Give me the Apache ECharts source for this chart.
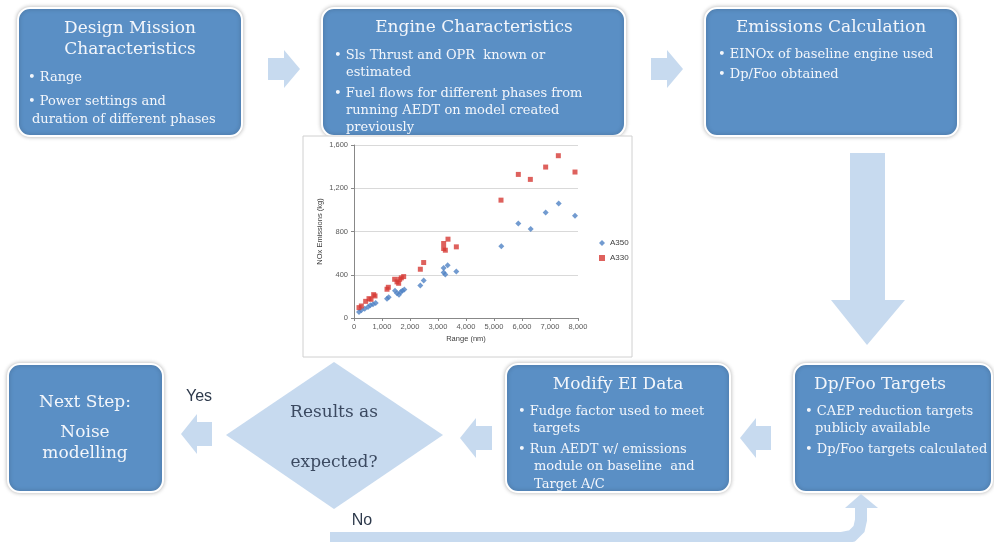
<!DOCTYPE html>
<html>
<head>
<meta charset="utf-8">
<script src="https://cdn.jsdelivr.net/npm/echarts@6/dist/echarts.min.js"></script>
<style>
html,body{margin:0;padding:0;background:#fff;}
#main{width:994px;height:542px;}
</style>
</head>
<body>
<div id="main"></div>
<script>
// ---- scatter data (Range nm, NOx kg) ----
var a350Range = [179,262,381,500,583,679,774,1179,1238,1464,1536,1607,1667,1726,1798,2369,2488,3202,3202,3262,3345,3655,5262,5869,6310,6845,7310,7893];
var a350Nox   = [56,71,86,102,117,127,139,179,192,253,229,216,241,253,263,300,346,463,420,402,488,429,664,874,822,976,1060,945];
var a330Range = [179,262,417,536,607,702,750,1179,1226,1452,1536,1595,1631,1690,1774,2369,2488,3202,3202,3262,3357,3655,5250,5869,6298,6845,7298,7893];
var a330Nox   = [96,111,154,179,173,216,204,266,284,358,334,321,358,371,383,451,513,689,643,627,729,658,1090,1328,1282,1396,1501,1350];
var seriesNames = ['A350','A330'];
var yTicks = [0,400,800,1200,1600];
var xTicks = [0,1000,2000,3000,4000,5000,6000,7000,8000];

function pairs(xs, ys){ return xs.map(function(x,i){ return [x, ys[i]]; }); }
function fmt(v){ return String(v).replace(/\B(?=(\d{3})+(?!\d))/g, ','); }

var BOX = '#5a8fc5', ARW = '#c7daef', TXT = '#f3f6fb';
var SERIF = '"DejaVu Serif", "Liberation Serif", serif';
var SANS = '"Liberation Sans", Arial, sans-serif';
var TS = 17, BS = 13;

function box(x, y, w, h){
  return {type:'rect', z:1, shape:{x:x, y:y, width:w, height:h, r:12},
    style:{fill:BOX, stroke:'#ffffff', lineWidth:2, shadowBlur:4, shadowColor:'rgba(0,0,0,0.25)'}};
}
function txt(s, x, y, size, align, color, family){
  return {type:'text', z:3, style:{text:s, x:x, y:y, fontSize:size, fontFamily:family||SERIF,
    fill:color||TXT, textAlign:align||'left', textVerticalAlign:'middle'}};
}
function poly(pts, z){
  return {type:'polygon', z:z||1, shape:{points:pts}, style:{fill:ARW}};
}
function rightArrow(x0, x1, cy){
  var hx = x1 - 16;
  return poly([[x0,cy-11],[hx,cy-11],[hx,cy-19],[x1,cy],[hx,cy+19],[hx,cy+11],[x0,cy+11]]);
}
function leftArrow(x0, x1, cy){ // x0 = tip
  var hx = x0 + 16;
  return poly([[x1,cy-12],[hx,cy-12],[hx,cy-20],[x0,cy],[hx,cy+20],[hx,cy+12],[x1,cy+12]]);
}

var graphics = [
  // boxes
  box(18, 8, 224, 128),
  box(322, 8, 303, 128),
  box(705, 8, 253, 128),
  box(8, 364, 155, 128),
  box(506, 364, 224, 128),
  box(794, 364, 198, 128),
  // arrows
  rightArrow(268, 300, 69),
  rightArrow(651, 683, 69),
  poly([[850,153],[885,153],[885,300],[905,300],[867,345],[831,300],[850,300]]),
  leftArrow(740, 771, 438),
  leftArrow(460, 492, 438),
  leftArrow(181, 212, 434),
  {type:'polyline', z:1, shape:{points:[[330,538],[842,538],[852,536],[859,529],[861,520],[861,506]]},
   style:{stroke:ARW, lineWidth:12, fill:null}},
  poly([[845,508],[878,508],[861,494]]),
  // diamond
  poly([[226,435],[334,362],[443,435],[334,509]]),
  txt('Results as', 334, 413, TS, 'center', '#3b4960'),
  txt('expected?', 334, 463, TS, 'center', '#3b4960'),
  txt('Yes', 199, 397, 16, 'center', '#2e3a4c', SANS),
  txt('No', 362, 521, 16, 'center', '#2e3a4c', SANS),
  // box 1
  txt('Design Mission', 130, 29, TS, 'center'),
  txt('Characteristics', 130, 50, TS, 'center'),
  txt('\u2022 Range', 28, 78, BS),
  txt('\u2022 Power settings and', 28, 102, BS),
  txt('duration of different phases', 32, 120, BS),
  // box 2
  txt('Engine Characteristics', 474, 28, TS, 'center'),
  txt('\u2022 Sls Thrust and OPR  known or', 334, 56, BS),
  txt('estimated', 346, 73, BS),
  txt('\u2022 Fuel flows for different phases from', 334, 94, BS),
  txt('running AEDT on model created', 346, 111, BS),
  txt('previously', 346, 128, BS),
  // box 3
  txt('Emissions Calculation', 831, 28, TS, 'center'),
  txt('\u2022 EINOx of baseline engine used', 718, 55, BS),
  txt('\u2022 Dp/Foo obtained', 718, 75, BS),
  // next step
  txt('Next Step:', 85, 403, TS, 'center'),
  txt('Noise', 85, 433, TS, 'center'),
  txt('modelling', 85, 454, TS, 'center'),
  // modify EI
  txt('Modify EI Data', 618, 385, TS, 'center'),
  txt('\u2022 Fudge factor used to meet', 518, 412, BS),
  txt('targets', 533, 429, BS),
  txt('\u2022 Run AEDT w/ emissions', 518, 450, BS),
  txt('module on baseline  and', 534, 467, BS),
  txt('Target A/C', 534, 485, BS),
  // dp/foo targets
  txt('Dp/Foo Targets', 880, 385, TS, 'center'),
  txt('\u2022 CAEP reduction targets', 805, 412, BS),
  txt('publicly available', 815, 429, BS),
  txt('\u2022 Dp/Foo targets calculated', 805, 450, BS),
  // chart inset background
  {type:'rect', z:5, shape:{x:303, y:136, width:329, height:221},
   style:{fill:'#ffffff', stroke:'#d0d0d0', lineWidth:1}}
];

var chart = echarts.init(document.getElementById('main'), null, {renderer:'canvas'});
chart.setOption({
  backgroundColor:'#ffffff',
  animation:false,
  graphic: graphics,
  grid:{left:354, top:145, width:224, height:173, containLabel:false, z:10},
  legend:{
    z:12, orient:'vertical', left:594, top:234, itemWidth:6, itemHeight:6, itemGap:7,
    textStyle:{fontSize:8, color:'#404040', fontFamily:SANS},
    data:[{name:'A350', icon:'diamond'},{name:'A330', icon:'rect'}]
  },
  xAxis:{
    type:'value', min:0, max:8000, interval:1000, z:10,
    name:'Range (nm)', nameLocation:'middle', nameGap:17,
    nameTextStyle:{fontSize:7.5, color:'#404040', fontFamily:SANS},
    axisLine:{show:true, lineStyle:{color:'#888888'}},
    axisTick:{show:true, length:3, lineStyle:{color:'#888888'}},
    axisLabel:{fontSize:7.5, color:'#595959', margin:5, fontFamily:SANS, formatter:function(v){return fmt(v);}},
    splitLine:{show:false}
  },
  yAxis:{
    type:'value', min:0, max:1600, interval:400, z:10,
    name:'NOx Emissions (kg)', nameLocation:'middle', nameGap:30, nameRotate:90,
    nameTextStyle:{fontSize:7.5, color:'#404040', fontFamily:SANS},
    axisLine:{show:true, lineStyle:{color:'#888888'}},
    axisTick:{show:true, length:3, lineStyle:{color:'#888888'}},
    axisLabel:{fontSize:7.5, color:'#595959', margin:6, fontFamily:SANS, formatter:function(v){return fmt(v);}},
    splitLine:{show:true, lineStyle:{color:'#d9d9d9'}}
  },
  series:[
    {name:seriesNames[0], type:'scatter', z:12, symbol:'diamond', symbolSize:6,
     itemStyle:{color:'#4f82c4'}, data:pairs(a350Range, a350Nox)},
    {name:seriesNames[1], type:'scatter', z:12, symbol:'rect', symbolSize:5,
     itemStyle:{color:'#d63a35'}, data:pairs(a330Range, a330Nox)}
  ]
});
</script>
</body>
</html>
